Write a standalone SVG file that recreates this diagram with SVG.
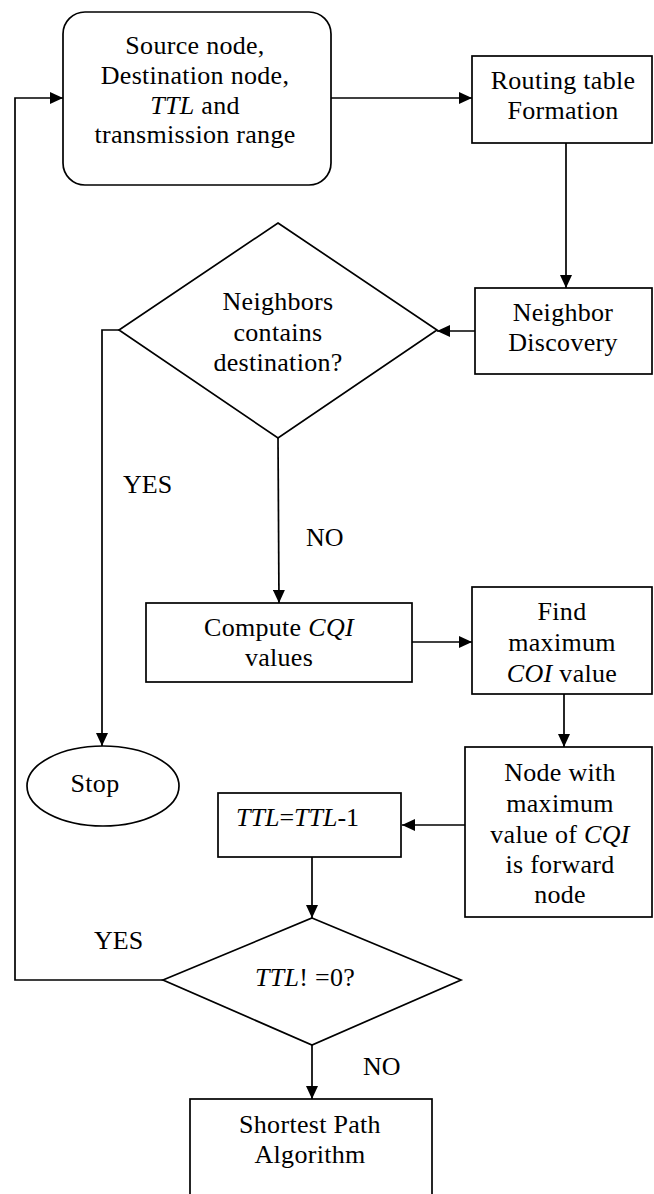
<svg xmlns="http://www.w3.org/2000/svg" width="654" height="1194" viewBox="0 0 654 1194">
<style>
.s{fill:#fff;stroke:#000;stroke-width:1.7}
.t{font-family:'Liberation Serif','DejaVu Serif','Times New Roman',serif;font-size:26px;letter-spacing:0.3px;fill:#000;text-anchor:middle}
.l{font-family:'Liberation Serif','DejaVu Serif','Times New Roman',serif;font-size:26px;fill:#000}
.c{fill:none;stroke:#000;stroke-width:1.7}
.i{font-style:italic}
</style>
<defs>
<marker id="a" markerUnits="userSpaceOnUse" markerWidth="14" markerHeight="12" refX="13" refY="6" orient="auto">
<path d="M0,0 L13,6 L0,12 z" fill="#000"/>
</marker>
</defs>
<rect width="654" height="1194" fill="#fff"/>
<g id="connectors">
<path class="c" d="M331,98 H472" marker-end="url(#a)"/>
<path class="c" d="M566,143 V288" marker-end="url(#a)"/>
<path class="c" d="M475,331 H437" marker-end="url(#a)"/>
<path class="c" d="M119,330 H102 V746" marker-end="url(#a)"/>
<path class="c" d="M278,438 L279,603" marker-end="url(#a)"/>
<path class="c" d="M412,642 H472" marker-end="url(#a)"/>
<path class="c" d="M564,694 V747" marker-end="url(#a)"/>
<path class="c" d="M465,825 H402" marker-end="url(#a)"/>
<path class="c" d="M312,857 V918" marker-end="url(#a)"/>
<path class="c" d="M163,980 H15 V98 H63" marker-end="url(#a)"/>
<path class="c" d="M312,1045 V1099" marker-end="url(#a)"/>
<text class="l" x="123" y="493">YES</text>
<text class="l" x="306" y="546">NO</text>
<text class="l" x="94" y="949">YES</text>
<text class="l" x="363" y="1075">NO</text>
</g>
<g id="start">
<rect class="s" x="63" y="12" width="268" height="173" rx="22"/>
<text class="t" x="195" y="54">Source node,</text>
<text class="t" x="195" y="84">Destination node,</text>
<text class="t" x="195" y="114"><tspan class="i">TTL</tspan> and</text>
<text class="t" x="195" y="143">transmission range</text>
</g>
<g id="routing">
<rect class="s" x="472" y="56" width="180" height="87"/>
<text class="t" x="563" y="89">Routing table</text>
<text class="t" x="563" y="119">Formation</text>
</g>
<g id="discovery">
<rect class="s" x="475" y="288" width="177" height="86"/>
<text class="t" x="563" y="321">Neighbor</text>
<text class="t" x="563" y="351">Discovery</text>
</g>
<g id="decision1">
<polygon class="s" points="278,223 437,330 278,438 119,330"/>
<text class="t" x="278" y="310">Neighbors</text>
<text class="t" x="278" y="341">contains</text>
<text class="t" x="278" y="371">destination?</text>
</g>
<g id="compute">
<rect class="s" x="146" y="603" width="266" height="79"/>
<text class="t" x="279" y="636">Compute <tspan class="i">CQI</tspan></text>
<text class="t" x="279" y="666">values</text>
</g>
<g id="findmax">
<rect class="s" x="472" y="587" width="180" height="107"/>
<text class="t" x="562" y="620">Find</text>
<text class="t" x="562" y="651">maximum</text>
<text class="t" x="562" y="682"><tspan class="i">COI</tspan> value</text>
</g>
<g id="stop">
<ellipse class="s" cx="103" cy="786" rx="76" ry="40"/>
<text class="t" x="95" y="792">Stop</text>
</g>
<g id="forward">
<rect class="s" x="465" y="747" width="187" height="170"/>
<text class="t" x="560" y="781">Node with</text>
<text class="t" x="560" y="812">maximum</text>
<text class="t" x="560" y="843">value of <tspan class="i">CQI</tspan></text>
<text class="t" x="560" y="873">is forward</text>
<text class="t" x="560" y="903">node</text>
</g>
<g id="decrement">
<rect class="s" x="218" y="793" width="183" height="64"/>
<text class="l" x="236" y="826"><tspan class="i">TTL</tspan>=<tspan class="i">TTL</tspan>-1</text>
</g>
<g id="decision2">
<polygon class="s" points="312,918 461,980 312,1045 163,980"/>
<text class="t" x="305" y="986"><tspan class="i">TTL</tspan>! =0?</text>
</g>
<g id="shortest">
<rect class="s" x="190" y="1099" width="242" height="110"/>
<text class="t" x="310" y="1133">Shortest Path</text>
<text class="t" x="310" y="1163">Algorithm</text>
</g>
</svg>
